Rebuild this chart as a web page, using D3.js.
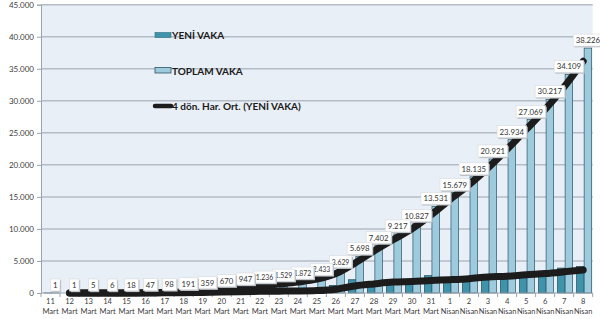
<!DOCTYPE html>
<html><head><meta charset="utf-8">
<script src="https://cdn.jsdelivr.net/npm/d3@7"></script>
<style>body{margin:0;background:#fff}svg{display:block}</style>
</head><body>
<svg id="c" width="600" height="319"></svg>
<script>
const days = ["11","12","13","14","15","16","17","18","19","20","21","22","23","24","25","26","27","28","29","30","31","1","2","3","4","5","6","7","8"];
const months = ["Mart","Mart","Mart","Mart","Mart","Mart","Mart","Mart","Mart","Mart","Mart","Mart","Mart","Mart","Mart","Mart","Mart","Mart","Mart","Mart","Mart","Nisan","Nisan","Nisan","Nisan","Nisan","Nisan","Nisan","Nisan"];
const yeniVaka = [1,0,4,1,12,29,51,93,168,311,277,289,293,343,561,1196,2069,1704,1815,1610,2704,2148,2456,2786,3013,3135,3148,3892,4117];
const toplamVaka = [1,1,5,6,18,47,98,191,359,670,947,1236,1529,1872,2433,3629,5698,7402,9217,10827,13531,15679,18135,20921,23934,27069,30217,34109,38226];
// moving average lines (null = not drawn)
const harOrtYeni = [null,1,2,2,4,11,23,46,85,156,212,261,292,300,372,598,1100,1420,1700,1800,1960,2080,2240,2500,2620,2850,3030,3300,3600];
const harOrtToplam = [null,1,3,6,12,33,73,145,275,515,809,1092,1383,1701,2153,3031,4664,6550,8310,10022,12179,14605,16907,19528,22428,25502,28643,32163,36168];
const yTicks = [0,5000,10000,15000,20000,25000,30000,35000,40000,45000];

const cats = days.map((d,i)=>i);
const svg = d3.select("#c");
const L=41, R=592.7, T=4.7, B=293;
const x = d3.scaleBand(cats,[L,R]).padding(0);
const bw = x.bandwidth();
const xs = d3.scaleBand(["new","total"],[bw*0.155,bw*0.945]).padding(0);
const y = d3.scaleLinear([0,45000],[B,T]);
const loc = d3.formatLocale({decimal:",",thousands:".",grouping:[3],currency:["",""]});
const fmt = loc.format(",");

// plot background
svg.append("rect").attr("x",L).attr("y",T).attr("width",R-L).attr("height",B-T).attr("fill","#e9eff6");
// gridlines
svg.append("g").selectAll("line").data(yTicks.slice(1)).join("line")
  .attr("x1",L).attr("x2",R).attr("y1",d=>y(d)).attr("y2",d=>y(d))
  .attr("stroke","#b4bcc6").attr("stroke-width",1.5);

// y axis
const ya = svg.append("g").attr("transform",`translate(${L},0)`)
  .call(d3.axisLeft(y).tickValues(yTicks).tickFormat(fmt).tickSize(4).tickPadding(3));
ya.select(".domain").attr("stroke","#9aa3ad");
ya.selectAll(".tick line").attr("stroke","#9aa3ad");
ya.selectAll("text").attr("font-family","Lato, sans-serif").attr("font-size",8).attr("fill","#404040");

// bars
const g = svg.append("g");
g.selectAll("rect.n").data(cats).join("rect").attr("class","n")
  .attr("x",i=>x(i)+xs("new")).attr("width",xs.bandwidth())
  .attr("y",i=>y(yeniVaka[i])).attr("height",i=>B-y(yeniVaka[i]))
  .attr("fill","#3f93aa").attr("stroke","#1d4a59").attr("stroke-width",0.7);
g.selectAll("rect.t").data(cats).join("rect").attr("class","t")
  .attr("x",i=>x(i)+xs("total")).attr("width",xs.bandwidth())
  .attr("y",i=>y(toplamVaka[i])).attr("height",i=>B-y(toplamVaka[i]))
  .attr("fill","#9dcbdd").attr("stroke","#2a5566").attr("stroke-width",0.7);

// x axis
const xa = svg.append("g").attr("transform",`translate(0,${B})`);
xa.append("line").attr("x1",L).attr("x2",R).attr("stroke","#9aa3ad");
xa.selectAll("line.tk").data(d3.range(cats.length+1)).join("line").attr("class","tk")
  .attr("x1",i=>L+i*bw).attr("x2",i=>L+i*bw).attr("y1",0).attr("y2",4).attr("stroke","#9aa3ad");
const xl = xa.selectAll("text").data(cats).join("text")
  .attr("x",i=>x(i)+bw/2).attr("text-anchor","middle")
  .attr("font-family","Lato, sans-serif").attr("font-size",7.6).attr("fill","#404040");
xl.append("tspan").attr("x",i=>x(i)+bw/2).attr("y",11).text(i=>days[i]);
xl.append("tspan").attr("x",i=>x(i)+bw/2).attr("y",21).attr("textLength",i=>months[i]==="Nisan"?18.4:null).attr("lengthAdjust","spacingAndGlyphs").text(i=>months[i]);

// moving average lines
const line = d3.line().defined(d=>d.v!=null).x(d=>x(d.i)+bw/2).y(d=>y(d.v)).curve(d3.curveCatmullRom);
[harOrtToplam, harOrtYeni].forEach(arr=>{
  svg.append("path").datum(arr.map((v,i)=>({i,v})))
    .attr("d",line).attr("fill","none").attr("stroke","#1c1c1c")
    .attr("stroke-width",7).attr("stroke-linecap","round").attr("stroke-linejoin","round");
});

// data labels (drawn right to left so left boxes sit on top)
const lg = svg.append("g");
cats.slice().reverse().forEach(i=>{
  const cx = x(i)+xs("total")+xs.bandwidth()/2;
  const cy = y(toplamVaka[i]) - 8;
  const grp = lg.append("g");
  const sh = grp.append("rect");
  const bx = grp.append("rect");
  const t = grp.append("text").attr("x",cx).attr("y",cy+3).attr("text-anchor","middle")
    .attr("font-family","Lato, sans-serif").attr("font-size",7.8).attr("fill","#333").text(fmt(toplamVaka[i]));
  let tw = t.node().getComputedTextLength();
  if (tw > 17.5 && i < 16) { t.attr("textLength",17.5).attr("lengthAdjust","spacingAndGlyphs"); tw = 17.5; }
  const w = tw+5;
  sh.attr("x",cx-w/2+1.2).attr("y",cy-6+1.2).attr("width",w).attr("height",12).attr("fill","#b9bec4");
  bx.attr("x",cx-w/2).attr("y",cy-6).attr("width",w).attr("height",12).attr("fill","#ffffff").attr("stroke","#d6d9dd").attr("stroke-width",0.6);
});

// legend
const leg = svg.append("g").attr("font-family","Lato, sans-serif").attr("font-weight","bold").attr("font-size",10).attr("fill","#1a1a1a");
leg.append("rect").attr("x",155).attr("y",32.5).attr("width",16).attr("height",5).attr("fill","#3f93aa").attr("stroke","#2a6f82").attr("stroke-width",0.6);
leg.append("text").attr("x",172).attr("y",39).text("YENİ VAKA");
leg.append("rect").attr("x",155).attr("y",67.5).attr("width",16).attr("height",5.5).attr("fill","#9dcbdd").attr("stroke","#2a5566").attr("stroke-width",0.8);
leg.append("text").attr("x",172).attr("y",74.5).text("TOPLAM VAKA");
leg.append("line").attr("x1",155).attr("x2",171).attr("y1",106).attr("y2",106).attr("stroke","#1c1c1c").attr("stroke-width",4.5).attr("stroke-linecap","round");
leg.append("text").attr("x",172).attr("y",109.5).text("4 dön. Har. Ort. (YENİ VAKA)");
</script>
</body></html>
